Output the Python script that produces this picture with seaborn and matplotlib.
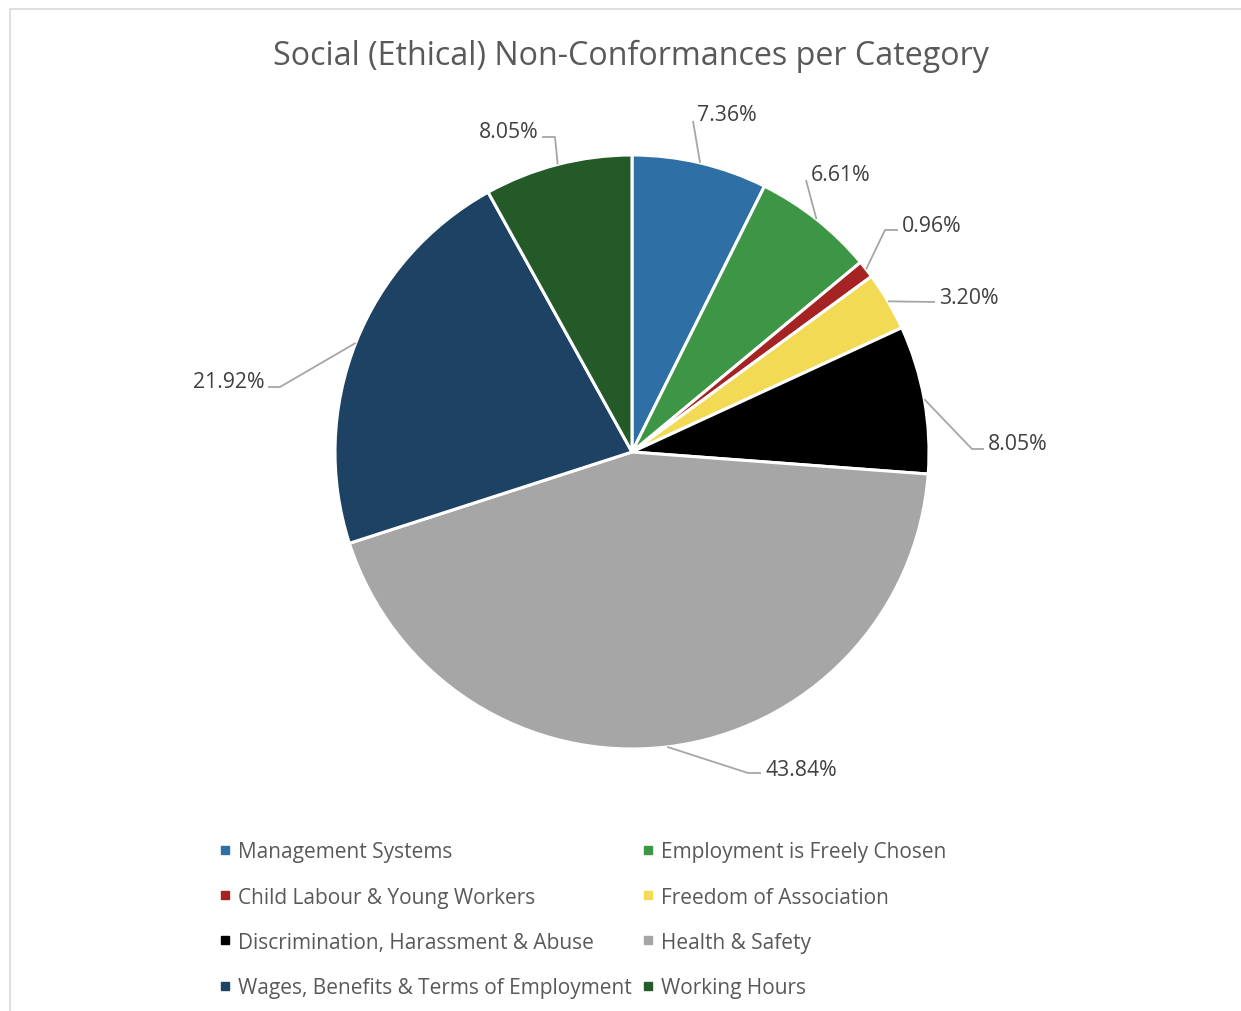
import matplotlib
matplotlib.use("Agg")
import matplotlib.pyplot as plt
import seaborn as sns
import numpy as np
from matplotlib.lines import Line2D
from matplotlib.patches import Rectangle

# ---------------- data ----------------
categories = [
    "Management Systems",
    "Employment is Freely Chosen",
    "Child Labour & Young Workers",
    "Freedom of Association",
    "Discrimination, Harassment & Abuse",
    "Health & Safety",
    "Wages, Benefits & Terms of Employment",
    "Working Hours",
]
shares = [7.36, 6.61, 0.96, 3.20, 8.05, 43.84, 21.92, 8.05]
colors = ["#2E6FA6", "#3C9646", "#A52323", "#F2DA55",
          "#000000", "#A6A6A6", "#1D4263", "#245A28"]
title = "Social (Ethical) Non-Conformances per Category"

# ---------------- layout (pixel coordinates, origin top-left) ----------------
W, H = 1241, 1012
CX, CY, R = 632, 453, 297
# label text anchor (x, y, ha) and leader path points after the wedge edge point
label_pos = [
    (697, 115, "left"),
    (811, 175, "left"),
    (902, 226, "left"),
    (939, 298, "left"),
    (988, 445, "left"),
    (765, 770, "left"),
    (264, 383, "right"),
    (538, 132, "right"),
]
leader_pts = [
    [(693, 122)],
    [(806, 181)],
    [(885, 231), (898, 231)],
    [(935, 303)],
    [(972, 450), (984, 450)],
    [(748, 774), (761, 774)],
    [(280, 388), (268, 388)],
    [(555, 138), (542, 138)],
]

sns.set_theme(style="white")
plt.rcParams["font.family"] = ["Open Sans", "DejaVu Sans"]

fig = plt.figure(figsize=(W / 100, H / 100), dpi=100)
fig.patch.set_facecolor("white")
ax = fig.add_axes([0, 0, 1, 1])

wedges, _ = ax.pie(
    shares, colors=colors, startangle=90, counterclock=False,
    center=(CX, H - CY), radius=R,
    wedgeprops=dict(edgecolor="white", linewidth=2.2, antialiased=True),
)
ax.set_xlim(0, W)
ax.set_ylim(0, H)
ax.set_aspect("equal")
ax.axis("off")

for w, v, (tx, ty, ha), pts in zip(wedges, shares, label_pos, leader_pts):
    mid = np.deg2rad((w.theta1 + w.theta2) / 2)
    ex, ey = CX + R * np.cos(mid), (H - CY) + R * np.sin(mid)
    xs = [ex] + [p[0] for p in pts]
    ys = [ey] + [H - p[1] for p in pts]
    ax.plot(xs, ys, color="#A6A6A6", lw=1.3, solid_capstyle="butt")
    ax.text(tx, H - ty, f"{v:.2f}%", ha=ha, va="center",
            fontsize=15.3, color="#404040")

fig.text(631 / W, 1 - 56 / H, title, ha="center", va="center",
         fontsize=23.2, color="#595959")

# border
fig.patches.append(Rectangle((10 / W, -0.1), 1.2, 1 - 10 / H + 0.1,
                             transform=fig.transFigure, fill=False,
                             edgecolor="#D9D9D9", lw=1.2))

handles = [Line2D([], [], marker="s", ls="", color=c, markersize=6) for c in colors]
order = [0, 2, 4, 6, 1, 3, 5, 7]
leg = fig.legend([handles[i] for i in order], [categories[i] for i in order],
                 ncol=2, loc="upper left", bbox_to_anchor=(209 / W, 1 - 832 / H),
                 frameon=False, fontsize=15, labelcolor="#595959",
                 handlelength=0.55, handletextpad=0.35, columnspacing=0.5,
                 labelspacing=1.16, borderpad=0)

fig.savefig("out.png", dpi=100, facecolor="white")
